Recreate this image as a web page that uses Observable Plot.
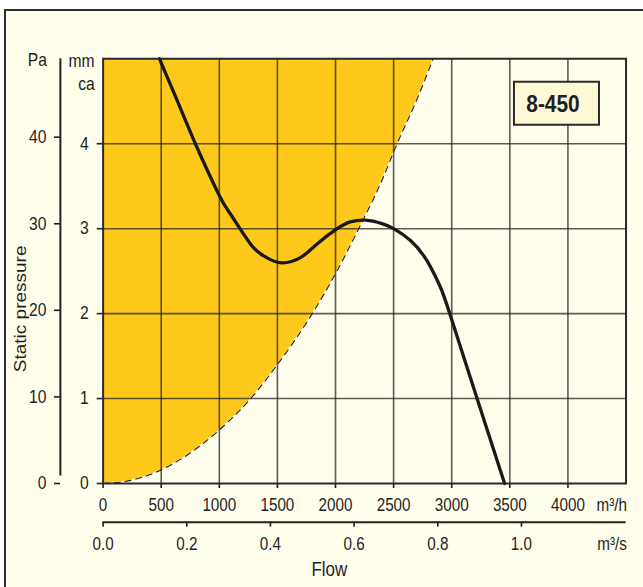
<!DOCTYPE html>
<html>
<head>
<meta charset="utf-8">
<script src="https://cdn.jsdelivr.net/npm/d3@7"></script>
<script src="https://cdn.jsdelivr.net/npm/@observablehq/plot@0.6"></script>
<style>
  html, body { margin: 0; padding: 0; background: #ffffff; overflow: hidden; width: 643px; height: 587px; }
  #panel { position: absolute; left: 4px; top: 9px; width: 700px; height: 700px; background: #fffdec;
           border-left: 2px solid #2e2e2e; border-top: 2px solid #2e2e2e; }
  #chart { position: absolute; left: 0; top: 0; }
</style>
</head>
<body>
<div id="panel"></div>
<div id="chart"></div>
<script>
// ---- data ----
const flowTicksH = [0, 500, 1000, 1500, 2000, 2500, 3000, 3500, 4000];   // m3/h
const flowTicksS = [0.0, 0.2, 0.4, 0.6, 0.8, 1.0];                        // m3/s
const mmcaTicks = [0, 1, 2, 3, 4];                                        // mm ca
const paTicks = [0, 10, 20, 30, 40];                                      // Pa
const modelLabel = "8-450";

// fan curve (m3/h, mm ca)
const fanFlow = [485, 637, 794, 1000, 1097, 1268, 1382, 1520, 1698, 1841, 2014, 2128, 2257, 2400, 2501, 2645, 2788, 2903, 2983, 3218, 3455];
const fanPressure = [5.0, 4.51, 4.0, 3.39, 3.17, 2.82, 2.68, 2.60, 2.66, 2.82, 3.0, 3.08, 3.10, 3.06, 3.0, 2.86, 2.62, 2.31, 2.0, 1.0, 0.0];

// system (limit) curve (m3/h, mm ca)
const sysFlow = [0, 250, 500, 750, 1000, 1270, 1500, 1800, 2000, 2200, 2400, 2530, 2700, 2840];
const sysPressure = [0, 0.04, 0.16, 0.36, 0.63, 1.0, 1.40, 2.0, 2.47, 3.0, 3.57, 4.0, 4.52, 5.0];

const PA_PER_MMCA = 9.81;
const M3H_PER_M3S = 3600;

const fan = fanFlow.map((f, i) => ({flow: f, p: fanPressure[i]}));
const sys = sysFlow.map((f, i) => ({flow: f, p: sysPressure[i]}));

// ---- layout ----
const S = 643 / 739;            // horizontal compression of the original artwork
const W = 739, H = 587;
const font = "'Liberation Sans', Arial, Helvetica, sans-serif";
const ink = "#1f1f1f";
const yellow = "#ffc91c";

const box = (index, scales, values, dims) => {
  const right = dims.width - dims.marginRight;
  const g = d3.create("svg:g");
  g.append("rect")
    .attr("x", right - 30.6 - 97.7).attr("y", dims.marginTop + 23.4)
    .attr("width", 97.7).attr("height", 43)
    .attr("fill", "#fef8d6").attr("stroke", "#2a2a2a").attr("stroke-width", 2);
  g.append("text")
    .attr("x", right - 30.6 - 97.7 / 2 - 4).attr("y", dims.marginTop + 23.4 + 21.5)
    .attr("dy", "0.36em").attr("text-anchor", "middle")
    .attr("font-weight", "bold").attr("font-size", 24).attr("fill", ink)
    .text(modelLabel);
  return g.node();
};

const svg = Plot.plot({
  width: W, height: H,
  marginLeft: 118, marginRight: 20, marginTop: 58.3, marginBottom: 104,
  x: {domain: [0, 4500]},
  y: {domain: [0, 5]},
  style: {background: "transparent", fontFamily: font, fontSize: "17.5px", color: ink, overflow: "visible"},
  marks: [
    Plot.areaY(sys, {x: "flow", y1: "p", y2: 5, fill: yellow, curve: "monotone-x"}),
    Plot.ruleX(flowTicksH.filter(d => d > 0), {stroke: "#262626", strokeOpacity: 0.75, strokeWidth: 1.6}),
    Plot.ruleY(mmcaTicks.filter(d => d > 0), {stroke: "#262626", strokeOpacity: 0.75, strokeWidth: 1.6}),
    Plot.line(sys, {x: "flow", y: "p", stroke: "#222", strokeWidth: 1.1, strokeDasharray: "6,5", curve: "monotone-x"}),
    Plot.line(fan, {x: "flow", y: "p", stroke: "#1a1a1a", strokeWidth: 3.3, curve: "natural"}),
    Plot.frame({stroke: "#2a2a2a", strokeWidth: 2}),
    // m3/h axis
    Plot.axisX(flowTicksH, {tickSize: 5, tickPadding: 10, fontSize: 17.5, strokeWidth: 1.6, label: null, tickFormat: d => String(d)}),
    Plot.text(["m³/h"], {frameAnchor: "bottom-right", textAnchor: "end", lineAnchor: "top", dy: 15, dx: 1, fontSize: 17.5, fill: ink}),
    // m3/s axis
    Plot.ruleY([0], {dy: 38.7, stroke: "#222", strokeWidth: 2}),
    Plot.axisX(flowTicksS.map(v => v * M3H_PER_M3S), {tickSize: 5, tickPadding: 10, dy: 38.7, fontSize: 17.5, strokeWidth: 1.6, label: null,
      tickFormat: d => (d / M3H_PER_M3S).toFixed(1)}),
    Plot.text(["m³/s"], {frameAnchor: "bottom-right", textAnchor: "end", lineAnchor: "top", dy: 38.7 + 15, dx: 1, fontSize: 17.5, fill: ink}),
    Plot.text(["Flow"], {frameAnchor: "bottom", dx: -40.5, dy: 92.5, fontSize: 19.5, fill: ink}),
    // mm ca axis
    Plot.axisY(mmcaTicks, {tickSize: 6.9, tickPadding: 9.7, fontSize: 18, strokeWidth: 1.6, label: null, tickFormat: d => String(d)}),
    Plot.text(["mm"], {frameAnchor: "top-left", textAnchor: "end", dx: -9.7, dy: -4.8, fontSize: 18, fill: ink}),
    Plot.text(["ca"], {frameAnchor: "top-left", textAnchor: "end", dx: -9.7, dy: 18.6, fontSize: 18, fill: ink}),
    // Pa axis
    Plot.ruleX([0], {y1: 0, y2: 5, insetTop: -7.6, dx: -49.1, stroke: "#222", strokeWidth: 2}),
    Plot.axisY(paTicks.map(p => p / PA_PER_MMCA), {tickSize: 6.9, tickPadding: 9.2, dx: -49.1, fontSize: 18, strokeWidth: 1.6, label: null,
      tickFormat: d => String(Math.round(d * PA_PER_MMCA))}),
    Plot.text(["Pa"], {frameAnchor: "top-left", textAnchor: "end", dx: -64.6, dy: -6, fontSize: 18, fill: ink}),
    Plot.text(["Static pressure"], {frameAnchor: "left", rotate: -90, dx: -94.3, dy: 101, fontSize: 19, fill: ink}),
    box
  ]
});

svg.setAttribute("width", 643);
svg.setAttribute("height", 587);
svg.setAttribute("viewBox", `0 0 ${W} ${H}`);
svg.setAttribute("preserveAspectRatio", "none");
svg.style.width = "643px";
svg.style.height = "587px";
svg.style.maxWidth = "none";
svg.querySelectorAll("path, line, rect").forEach(e => e.setAttribute("vector-effect", "non-scaling-stroke"));
document.getElementById("chart").appendChild(svg);
</script>
</body>
</html>
